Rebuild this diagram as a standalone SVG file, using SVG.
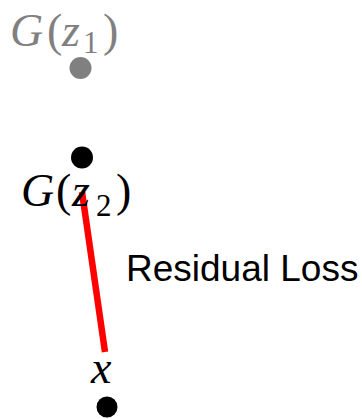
<svg xmlns="http://www.w3.org/2000/svg" width="362" height="419" viewBox="0 0 362 419">
<style>
.m{font-family:"Liberation Serif","DejaVu Serif",serif;font-size:46px}
.i{font-style:italic}
.s{font-size:31px}
.lbl{font-family:"Liberation Sans",Arial,sans-serif;font-size:37px;fill:#000}
</style>
<rect width="362" height="419" fill="#fff"/>
<g id="connectors">
<line x1="82" y1="192" x2="105" y2="352" stroke="#ff0000" stroke-width="6.5"/>
</g>
<g id="gz1">
<circle cx="80.5" cy="68" r="11" fill="#808080"/>
<text class="m" fill="#808080" y="46"><tspan class="i" x="10">G</tspan><tspan x="47">(</tspan><tspan class="i" x="62">z</tspan><tspan class="s" x="83" y="53">1</tspan><tspan x="103" y="46">)</tspan></text>
</g>
<g id="gz2">
<circle cx="82" cy="157.5" r="11" fill="#000"/>
<text class="m" fill="#000" y="206"><tspan class="i" x="21">G</tspan><tspan x="56">(</tspan><tspan class="i" x="72">z</tspan><tspan class="s" x="96" y="216">2</tspan><tspan x="116" y="206">)</tspan></text>
</g>
<g id="x">
<circle cx="107" cy="407" r="10.5" fill="#000"/>
<text class="m i" fill="#000" x="91" y="383">x</text>
</g>
<g id="label">
<text class="lbl" x="126" y="281">Residual Loss</text>
</g>
</svg>
